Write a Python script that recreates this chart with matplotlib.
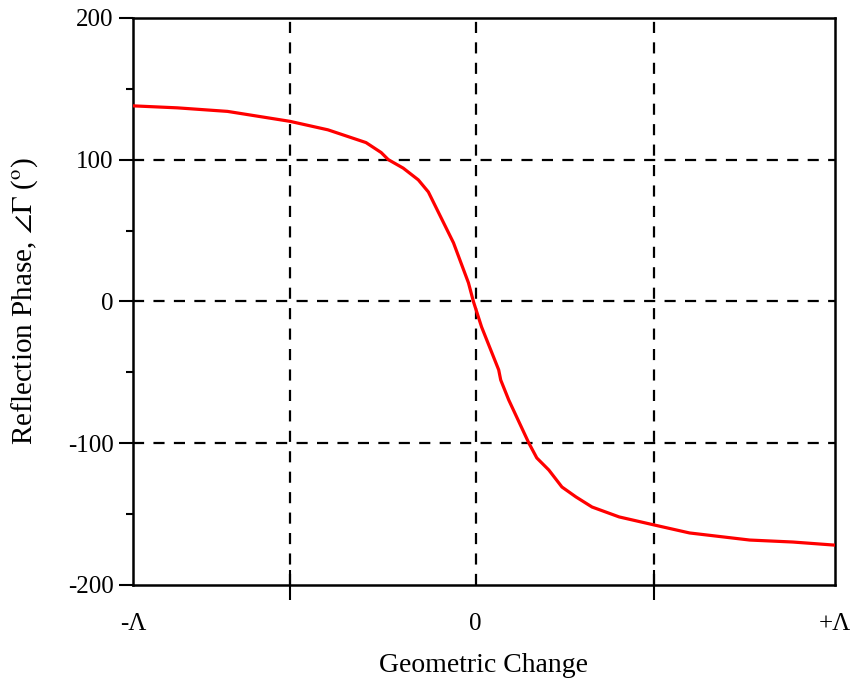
import numpy as np
import matplotlib
matplotlib.use('Agg')
import matplotlib.pyplot as plt

plt.rcParams['font.family'] = ['Liberation Serif', 'DejaVu Serif']
plt.rcParams['mathtext.fontset'] = 'stix'
plt.rcParams['axes.unicode_minus'] = False

# geometric change (grid spacing = 1 unit), reflection phase in degrees
x_geo = [-1.895, -1.636, -1.361, -1.019, -0.810, -0.601, -0.518, -0.479,
         -0.397, -0.314, -0.259, -0.121, -0.039, -0.011, 0.033, 0.127,
         0.138, 0.182, 0.292, 0.336, 0.402, 0.474, 0.551, 0.639, 0.788,
         0.981, 1.174, 1.504, 1.741, 1.972]
phase = [138, 136.5, 134, 127, 121, 112, 105, 100,
         94, 85.7, 77.2, 41.3, 13.1, -0.4, -18, -48.3,
         -55.4, -69.5, -99.8, -110.4, -118.9, -130.9, -137.9, -145, -152,
         -157.7, -163.3, -168.3, -169.7, -171.9]

x_lim = (-1.88, 1.972)
x_grid = [-1.02, 0, 0.98]
y_grid = [-100, 0, 100]
x_labels = ['-Λ', '0', '+Λ']

fig = plt.figure(figsize=(8.52, 6.85), dpi=100)
ax = fig.add_axes([0.156, 0.146, 0.824, 0.828])

for g in x_grid:
    ax.axvline(g, color='k', ls=(0, (5, 4.2)), lw=1.6, zorder=1)
for g in y_grid:
    ax.axhline(g, color='k', ls=(0, (5, 4.2)), lw=1.6, zorder=1)

ax.plot(x_geo, phase, color='#ff0000', lw=2.3, zorder=3)

ax.set_xlim(*x_lim)
ax.set_ylim(-200, 200)

ax.set_xticks([x_lim[0], 0, x_lim[1]])
ax.set_xticklabels(x_labels)
ax.set_xticks([x_grid[0], x_grid[2]], minor=True)
ax.tick_params(axis='x', which='major', length=0, pad=20, labelsize=18)
ax.tick_params(axis='x', which='minor', direction='inout', length=22, width=1.5)

ax.set_yticks([-200, -100, 0, 100, 200])
ax.set_yticks([-150, -50, 50, 150], minor=True)
ax.tick_params(axis='y', which='major', direction='out', length=10, width=1.5, labelsize=18, pad=4)
ax.tick_params(axis='y', which='minor', direction='out', length=5, width=1.5)

for s in ax.spines.values():
    s.set_linewidth(1.8)

ax.set_xlabel('Geometric Change', fontsize=20, labelpad=13)
ax.set_ylabel(r'Reflection Phase, $\angle\Gamma$ ($^{\mathrm{o}}$)', fontsize=21, labelpad=20)

fig.savefig('out.png', dpi=100)
